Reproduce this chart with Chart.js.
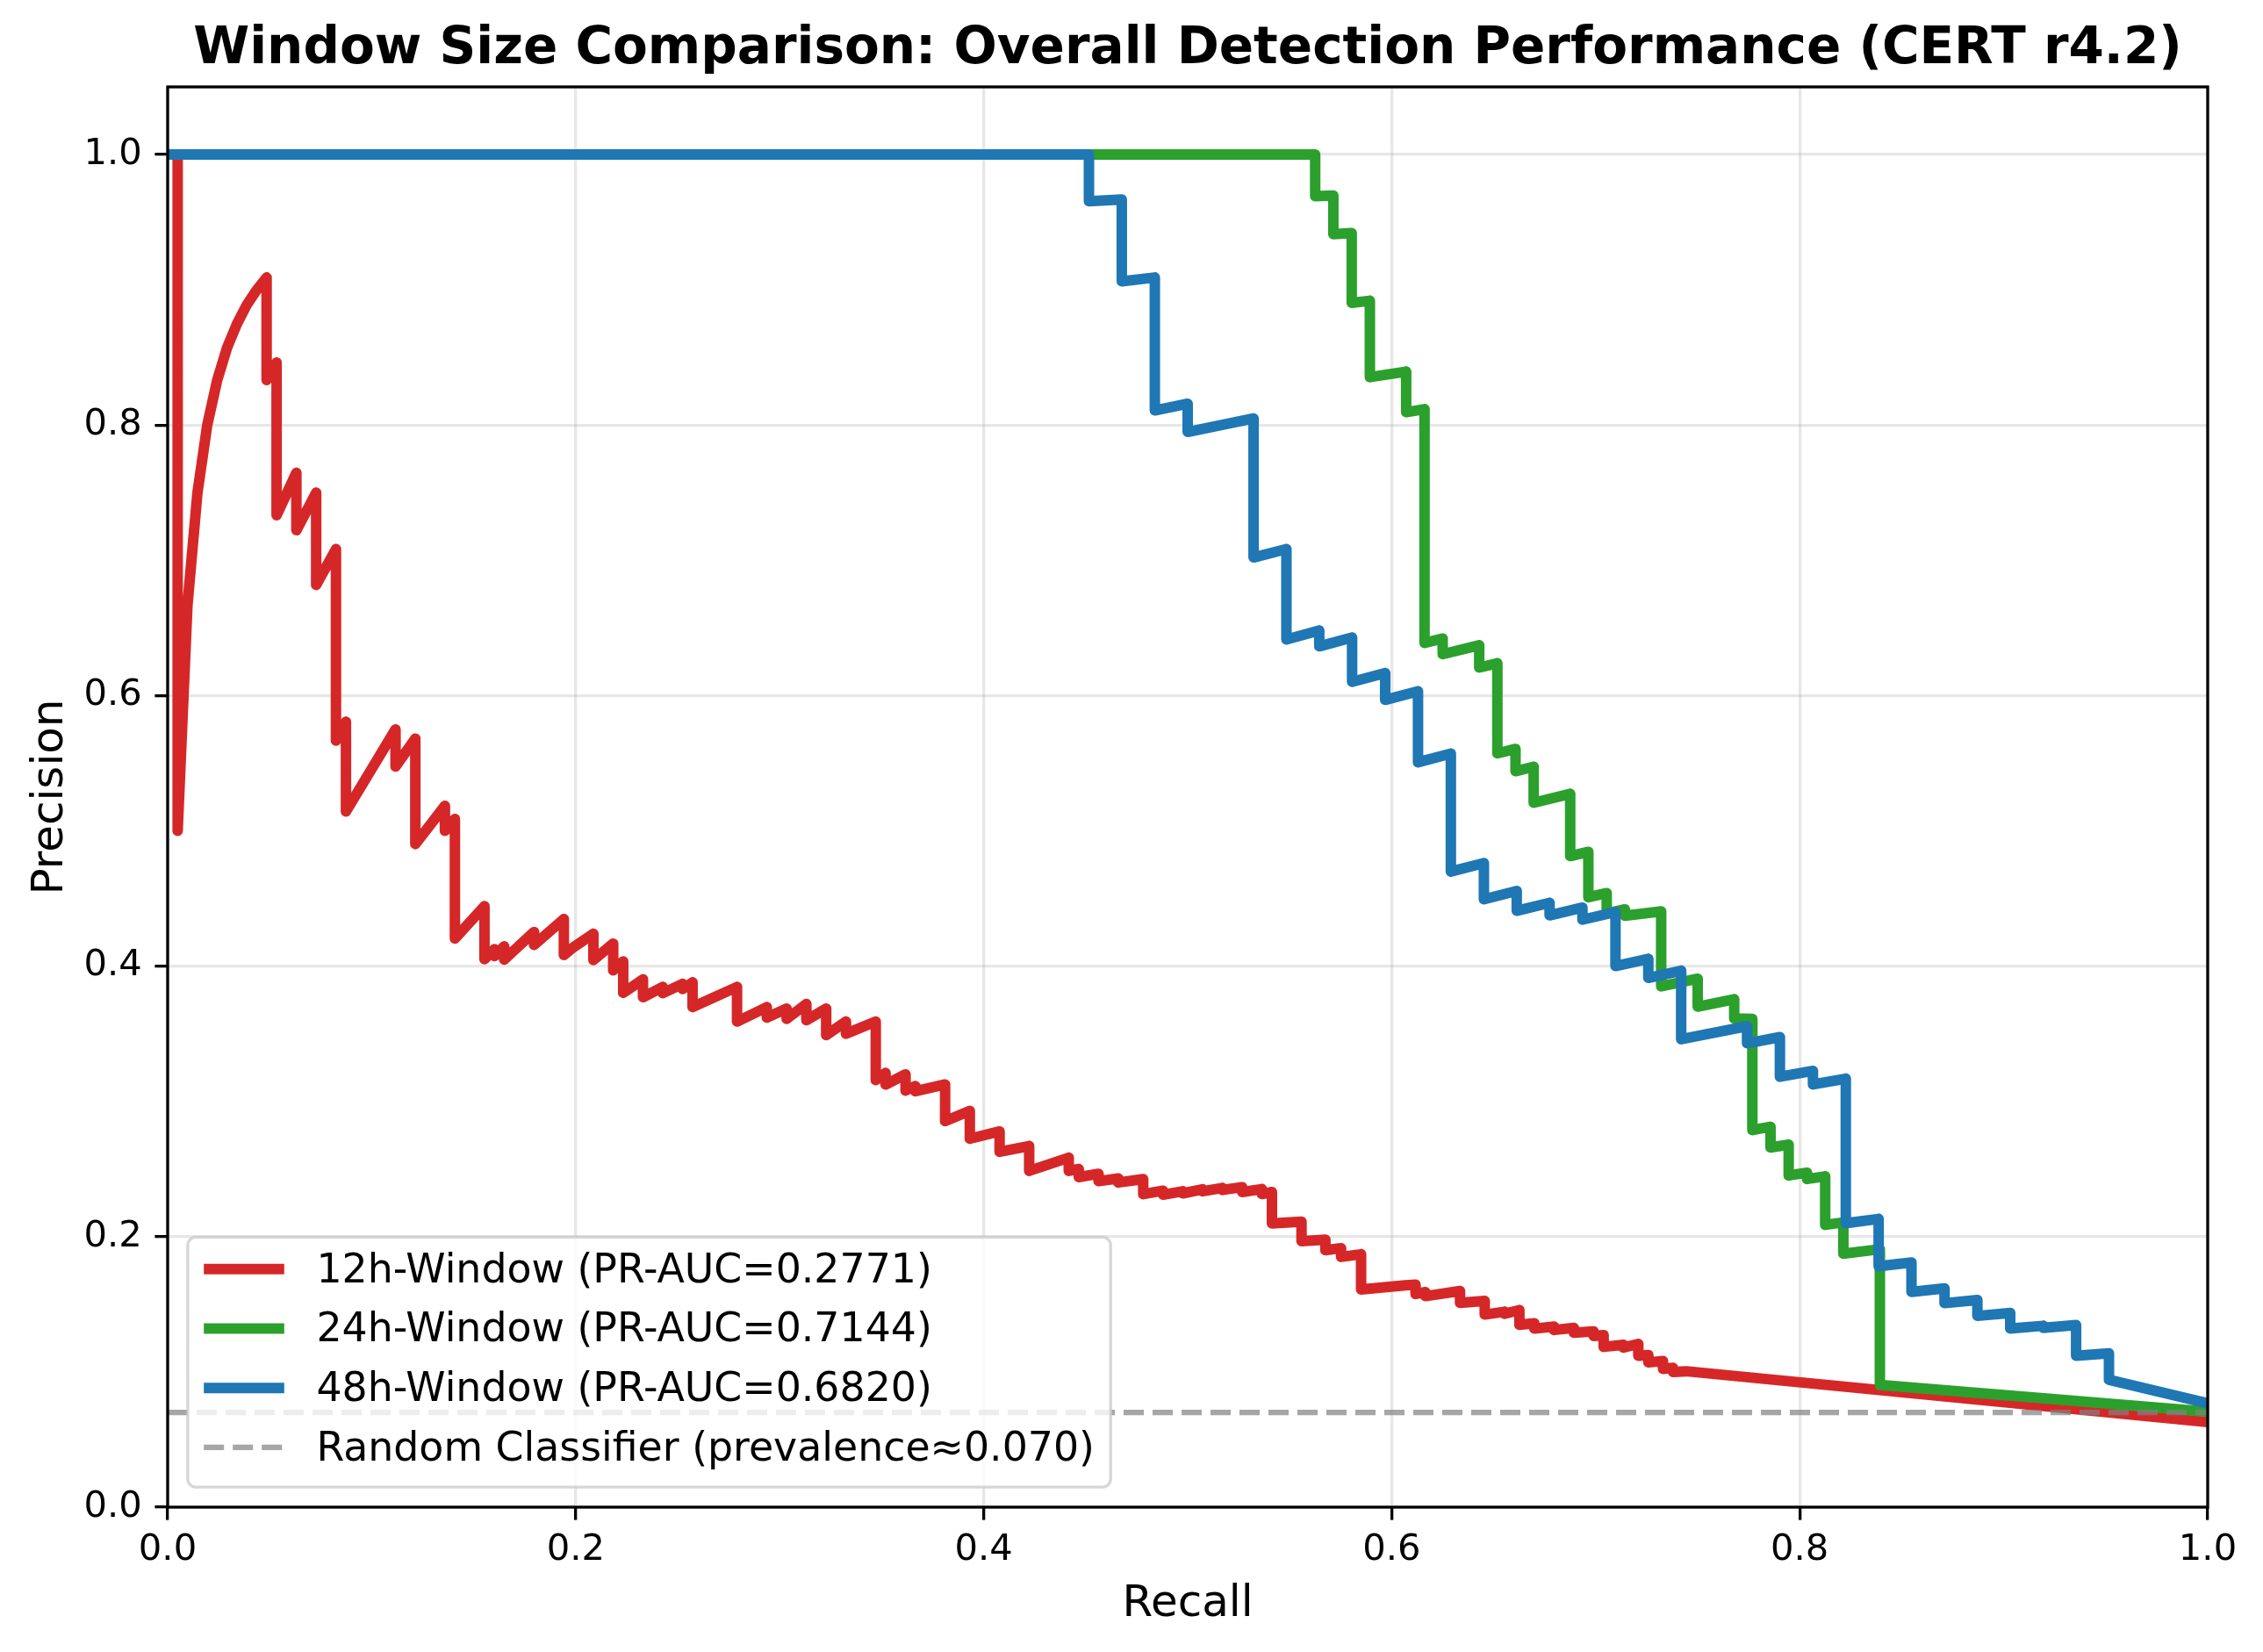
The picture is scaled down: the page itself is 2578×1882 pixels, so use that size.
<!DOCTYPE html>
<html>
<head>
<meta charset="utf-8">
<script src="https://cdn.jsdelivr.net/npm/chart.js@4.4.1/dist/chart.umd.min.js"></script>
<style>
html,body{margin:0;padding:0;background:#fff;overflow:hidden;}
#wrap{width:2578px;height:1882px;}
canvas{display:block;}
</style>
</head>
<body>
<div id="wrap"><canvas id="c" width="2578" height="1882"></canvas></div>
<script>
// ---------- data ----------
const chartTitle = 'Window Size Comparison: Overall Detection Performance (CERT r4.2)';
const xAxisTitle = 'Recall';
const yAxisTitle = 'Precision';
const xTickLabels = ['0.0','0.2','0.4','0.6','0.8','1.0'];
const yTickLabels = ['0.0','0.2','0.4','0.6','0.8','1.0'];
const seriesLabels = [
  '12h-Window (PR-AUC=0.2771)',
  '24h-Window (PR-AUC=0.7144)',
  '48h-Window (PR-AUC=0.6820)',
  'Random Classifier (prevalence\u22480.070)'
];

const recall12 = [0,0.0049,0.0049,0.0097,0.0146,0.0194,0.0243,0.0291,0.034,0.0388,0.0437,0.0485,
0.0485,0.0534,0.0534,0.0631,0.0631,0.0728,0.0728,0.0825,0.0825,0.0874,
0.0874,0.1117,0.1117,0.1214,0.1214,0.1359,0.1359,0.1408,0.1408,0.1553,
0.1553,0.1602,0.1602,0.165,0.165,0.1796,0.1796,0.1942,0.1942,0.199,
0.2087,0.2087,0.2184,0.2184,0.2233,0.2233,0.233,0.233,0.2427,0.2427,
0.2524,0.2524,0.2573,0.2573,0.2791,0.2791,0.2937,0.2937,0.3034,0.3034,
0.3131,0.3131,0.3228,0.3228,0.3325,0.3325,0.3471,0.3471,0.3519,0.3519,
0.3617,0.3617,0.3665,0.3665,0.3811,0.3811,0.3932,0.3932,0.4078,0.4078,
0.4223,0.4223,0.4417,0.4417,0.4466,0.4466,0.4563,0.4563,0.466,0.466,
0.4782,0.4782,0.4879,0.4879,0.4976,0.4976,0.5073,0.5073,0.517,0.517,
0.5267,0.5267,0.5364,0.5364,0.5413,0.5413,0.5558,0.5558,0.5675,0.5675,
0.5752,0.5752,0.585,0.585,0.6068,0.6117,0.6117,0.6165,0.6165,0.6335,
0.6335,0.6456,0.6456,0.6553,0.6553,0.6626,0.6626,0.6699,0.6699,0.6796,
0.6796,0.6893,0.6893,0.699,0.699,0.7039,0.7039,0.7136,0.7136,0.7209,
0.7209,0.7258,0.7258,0.733,0.733,0.7379,0.7379,0.7443,1.0];
const precision12 = [1.0,1.0,0.5,0.6667,0.75,0.8,0.8333,0.8571,0.875,0.8889,0.9,0.9091,
0.8333,0.8462,0.7333,0.7647,0.7222,0.75,0.6818,0.7083,0.5667,0.5806,
0.5143,0.575,0.5476,0.5682,0.4902,0.5185,0.5,0.5088,0.4203,0.4444,
0.4051,0.4125,0.4074,0.4146,0.4048,0.4253,0.4157,0.4348,0.4082,0.4141,
0.4239,0.4045,0.4167,0.3969,0.4035,0.3802,0.3902,0.377,0.3846,0.38,
0.3869,0.383,0.388,0.3697,0.3846,0.359,0.3697,0.362,0.3686,0.361,
0.372,0.36,0.3686,0.349,0.359,0.35,0.359,0.3157,0.321,0.3124,
0.32,0.308,0.3113,0.3075,0.3125,0.2854,0.293,0.2724,0.2778,0.2627,
0.267,0.2486,0.2584,0.2486,0.25,0.244,0.2465,0.241,0.243,0.24,
0.2425,0.2314,0.234,0.231,0.2336,0.232,0.235,0.2335,0.236,0.2345,
0.2366,0.233,0.2352,0.2315,0.233,0.2097,0.211,0.1967,0.1978,0.19,
0.1915,0.185,0.187,0.1609,0.164,0.1645,0.1576,0.159,0.156,0.1598,
0.151,0.1525,0.1424,0.1445,0.143,0.1457,0.1348,0.136,0.132,0.1335,
0.131,0.1325,0.129,0.13,0.1265,0.1272,0.1185,0.12,0.118,0.1207,
0.112,0.1125,0.107,0.108,0.1022,0.103,0.1,0.1005,0.063];

const recall24 = [0,0.5625,0.5625,0.5714,0.5714,0.5804,0.5804,0.5893,0.5893,0.6071,0.6071,
0.6161,0.6161,0.625,0.625,0.6429,0.6429,0.6518,0.6518,0.6607,0.6607,0.6696,0.6696,
0.6875,0.6875,0.6964,0.6964,0.7054,0.7054,0.7143,0.7143,0.7321,0.7321,0.75,0.75,
0.7679,0.7679,0.7768,0.7768,0.7857,0.7857,0.7946,0.7946,0.8036,0.8036,0.8125,0.8125,
0.8214,0.8214,0.8393,0.8393,1.0];
const precision24 = [1,1,0.9692,0.9697,0.9412,0.942,0.8904,0.8919,0.8354,0.8395,0.8095,
0.8118,0.6389,0.6422,0.6306,0.6372,0.6207,0.6239,0.5573,0.5606,0.5441,0.5474,0.5208,
0.5274,0.4813,0.4845,0.4509,0.454,0.4389,0.442,0.4372,0.4405,0.385,0.3907,0.37,
0.3755,0.3613,0.361,0.2788,0.2812,0.2659,0.268,0.2452,0.2473,0.2426,0.2446,0.2087,
0.2105,0.1874,0.1907,0.0903,0.0705];

const recall48 = [0,0.4516,0.4516,0.4677,0.4677,0.4839,0.4839,0.5,0.5,0.5323,0.5323,
0.5484,0.5484,0.5645,0.5645,0.5806,0.5806,0.5968,0.5968,0.6129,0.6129,0.629,0.629,
0.6452,0.6452,0.6613,0.6613,0.6774,0.6774,0.6935,0.6935,0.7097,0.7097,0.7258,0.7258,
0.7419,0.7419,0.7742,0.7742,0.7903,0.7903,0.8065,0.8065,0.8226,0.8226,0.8387,0.8387,
0.8548,0.8548,0.871,0.871,0.8871,0.8871,0.9032,0.9032,0.9194,0.9194,0.9355,0.9355,
0.9516,0.9516,1.0];
const precision48 = [1,1,0.9655,0.9667,0.9063,0.9091,0.8108,0.8158,0.7949,0.8049,0.7021,
0.7083,0.6415,0.6481,0.6364,0.6429,0.6102,0.6167,0.5968,0.6032,0.5507,0.5571,0.4699,
0.4762,0.4494,0.4556,0.4409,0.4468,0.4375,0.4433,0.4343,0.44,0.4,0.4054,0.3913,
0.3966,0.3459,0.3556,0.3429,0.3475,0.3182,0.3226,0.3125,0.3168,0.2099,0.2131,0.1781,
0.1809,0.1592,0.1617,0.1508,0.1532,0.1414,0.1436,0.1321,0.1341,0.1326,0.1346,0.112,
0.1137,0.0942,0.0768];

const randomRecall = [0, 1];
const randomPrecision = [0.07, 0.07];

// ---------- build ----------
function pts(xs, ys){ return xs.map((x,i)=>({x:x, y:ys[i]})); }

const FONT = 'DejaVu Sans';
Chart.defaults.font.family = FONT;
Chart.defaults.color = '#000';

const bgPlugin = {
  id:'bg',
  beforeDraw(chart){
    const c = chart.ctx; c.save(); c.fillStyle='#fff';
    c.fillRect(0,0,chart.width,chart.height); c.restore();
  }
};
const framePlugin = {
  id:'frame',
  afterDatasetsDraw(chart){
    const a = chart.chartArea, c = chart.ctx;
    c.save(); c.strokeStyle='#000'; c.lineWidth=3.3; c.setLineDash([]);
    c.strokeRect(a.left, a.top, a.right-a.left, a.bottom-a.top);
    c.restore();
  }
};
const legendPlugin = {
  id:'mplLegend',
  afterDraw(chart){
    const c = chart.ctx, a = chart.chartArea;
    const fs = 45.8, pad = 18.3, rowH = 44.85, gap = 22.9, hLen = 91.6, hPad = 36.6;
    const items = chart.data.datasets;
    c.save();
    c.font = fs + 'px "' + FONT + '"';
    let maxW = 0;
    items.forEach(d => { maxW = Math.max(maxW, c.measureText(d.label).width); });
    const bx = a.left + 22.9;
    const bw = pad*2 + hLen + hPad + maxW;
    const bh = pad*2 + items.length*rowH + (items.length-1)*gap;
    const by = a.bottom - 22.9 - bh;
    const r = 9.2;
    c.beginPath();
    c.moveTo(bx+r, by); c.lineTo(bx+bw-r, by); c.arcTo(bx+bw, by, bx+bw, by+r, r);
    c.lineTo(bx+bw, by+bh-r); c.arcTo(bx+bw, by+bh, bx+bw-r, by+bh, r);
    c.lineTo(bx+r, by+bh); c.arcTo(bx, by+bh, bx, by+bh-r, r);
    c.lineTo(bx, by+r); c.arcTo(bx, by, bx+r, by, r); c.closePath();
    c.fillStyle = 'rgba(255,255,255,0.8)'; c.fill();
    c.strokeStyle = 'rgba(204,204,204,0.8)'; c.lineWidth = 3.3; c.stroke();
    items.forEach((d,i) => {
      const cy = by + pad + i*(rowH+gap) + 18;
      c.beginPath();
      c.setLineDash(d.borderDash || []);
      c.lineCap = 'butt';
      c.strokeStyle = d.borderColor; c.lineWidth = d.borderWidth;
      c.moveTo(bx+pad, cy); c.lineTo(bx+pad+hLen, cy); c.stroke();
      c.setLineDash([]);
      c.fillStyle = '#000'; c.textBaseline = 'middle'; c.textAlign = 'left';
      c.fillText(d.label, bx+pad+hLen+hPad, cy+3);
    });
    c.restore();
  }
};

const lineCommon = {showLine:true, pointRadius:0, pointHoverRadius:0, borderWidth:12,
  borderJoinStyle:'round', borderCapStyle:'butt', tension:0, clip:0, fill:false};

new Chart(document.getElementById('c'), {
  type:'scatter',
  data:{
    datasets:[
      Object.assign({label:seriesLabels[0], data:pts(recall12,precision12), borderColor:'#d62728', backgroundColor:'#d62728', order:3}, lineCommon),
      Object.assign({label:seriesLabels[1], data:pts(recall24,precision24), borderColor:'#2ca02c', backgroundColor:'#2ca02c', order:2}, lineCommon),
      Object.assign({label:seriesLabels[2], data:pts(recall48,precision48), borderColor:'#1f77b4', backgroundColor:'#1f77b4', order:1}, lineCommon),
      Object.assign({}, lineCommon, {label:seriesLabels[3], data:pts(randomRecall,randomPrecision), borderColor:'rgba(128,128,128,0.7)', backgroundColor:'rgba(128,128,128,0.7)', borderWidth:6.25, borderDash:[23,10], order:0})
    ]
  },
  options:{
    responsive:false, maintainAspectRatio:false, animation:false, devicePixelRatio:1, events:[],
    layout:{padding:{left:0, right:63, top:0, bottom:0}},
    plugins:{
      legend:{display:false},
      tooltip:{enabled:false},
      title:{display:true, text:chartTitle, fullSize:false, color:'#000',
        font:{family:FONT, size:58, weight:'bold', lineHeight:1.2},
        padding:{top:22, bottom:7.4}}
    },
    scales:{
      x:{type:'linear', min:0, max:1,
        afterFit(s){ s.height = 165; },
        grid:{color:'rgba(176,176,176,0.3)', lineWidth:3.3, tickColor:'#000', tickWidth:3.3, tickLength:14.6, drawTicks:true},
        border:{display:false},
        ticks:{stepSize:0.2, autoSkip:false, maxRotation:0, padding:9.4, color:'#000',
          font:{family:FONT, size:41.7},
          callback:(v)=>{ const i = Math.round(v/0.2); return xTickLabels[i]; }},
        title:{display:true, text:xAxisTitle, color:'#000', font:{family:FONT, size:50, lineHeight:1.2}, padding:{top:0, bottom:24}}
      },
      y:{type:'linear', min:0, max:1.05,
        afterFit(s){ s.width = 191; },
        grid:{color:'rgba(176,176,176,0.3)', lineWidth:3.3, tickColor:'#000', tickWidth:3.3, tickLength:14.6, drawTicks:true},
        border:{display:false},
        ticks:{stepSize:0.2, includeBounds:false, autoSkip:false, padding:14.6, color:'#000',
          font:{family:FONT, size:41.7},
          callback:(v)=>{ const i = Math.round(v/0.2); return yTickLabels[i]; }},
        title:{display:true, text:yAxisTitle, color:'#000', font:{family:FONT, size:50, lineHeight:1.2}, padding:{top:28, bottom:0}}
      }
    }
  },
  plugins:[bgPlugin, framePlugin, legendPlugin]
});
</script>
</body>
</html>
